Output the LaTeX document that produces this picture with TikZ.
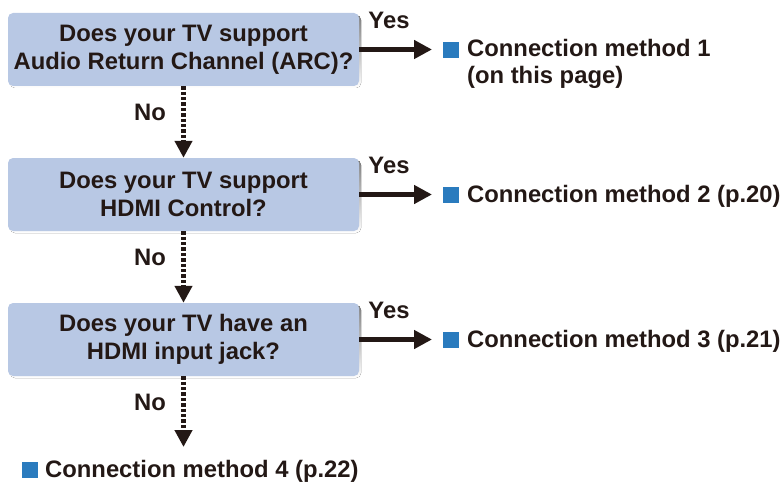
\documentclass[tikz,border=0pt]{standalone}
\usepackage{fontspec}
\setmainfont{Liberation Sans}
\usetikzlibrary{arrows.meta}
\definecolor{boxblue}{HTML}{B8C8E4}
\definecolor{ink}{HTML}{231815}
\definecolor{sqblue}{HTML}{2A7BBE}
\definecolor{shade}{HTML}{E4E4E4}
\tikzset{
  qbox/.style={fill=boxblue, rounded corners=5pt, minimum width=351pt, minimum height=73pt,
    inner sep=0pt, align=center, text=ink, font=\bfseries\fontsize{23.8}{28}\selectfont},
  lbl/.style={text=ink, inner sep=0pt, font=\bfseries\fontsize{23.8}{27}\selectfont},
  yesarrow/.style={draw=ink, line width=5pt, -{Triangle[length=18pt,width=18pt]}},
  noarrow/.style={draw=ink, line width=5pt, dash pattern=on 3.4pt off 2pt,
    -{Triangle[length=17pt,width=17pt]}},
  sq/.style={fill=sqblue, minimum size=16pt, inner sep=0pt},
}
\begin{document}
\begin{tikzpicture}[x=1pt,y=-1pt]
\useasboundingbox (0,0) rectangle (784,484);
% shadows
\foreach \yy in {13,158,303}
  \fill[shade, rounded corners=5pt] (10,\yy+2) rectangle (361,\yy+75);
\node[qbox] (q1) at (183.5,49.5) {Does your TV support\\Audio Return Channel (ARC)?};
\node[qbox] (q2) at (183.5,194.5) {Does your TV support\\HDMI Control?};
\node[qbox] (q3) at (183.5,339.5) {Does your TV have an\\HDMI input jack?};

\coordinate (t1) at (432,49.5);
\coordinate (t2) at (432,194.5);
\coordinate (t3) at (432,339.5);
\coordinate (t4) at (183.5,447);

\draw[yesarrow] (q1.east) -- (t1);
\draw[yesarrow] (q2.east) -- (t2);
\draw[yesarrow] (q3.east) -- (t3);
\draw[noarrow] (q1.south) -- (q2.north);
\draw[noarrow] (q2.south) -- (q3.north);
\draw[noarrow] (q3.south) -- (t4);

\node[lbl] (y1) at (389,20) {Yes};
\node[lbl] (y2) at (389,165) {Yes};
\node[lbl] (y3) at (389,310) {Yes};
\node[lbl] (n1) at (150,112) {No};
\node[lbl] (n2) at (150,257) {No};
\node[lbl] (n3) at (150,402) {No};

\node[sq] (s1) at (451,50) {};
\node[sq] (s2) at (451,195) {};
\node[sq] (s3) at (451,340) {};
\node[sq] (s4) at (29.5,470) {};

\node[lbl, anchor=base west] (m1) at (467,57)
  {\begin{tabular}[t]{@{}l@{}}Connection method 1\\(on this page)\end{tabular}};
\node[lbl, anchor=base west] (m2) at (467,202) {Connection method 2 (p.20)};
\node[lbl, anchor=base west] (m3) at (467,347) {Connection method 3 (p.21)};
\node[lbl, anchor=base west] (m4) at (45,477) {Connection method 4 (p.22)};
\end{tikzpicture}
\end{document}
